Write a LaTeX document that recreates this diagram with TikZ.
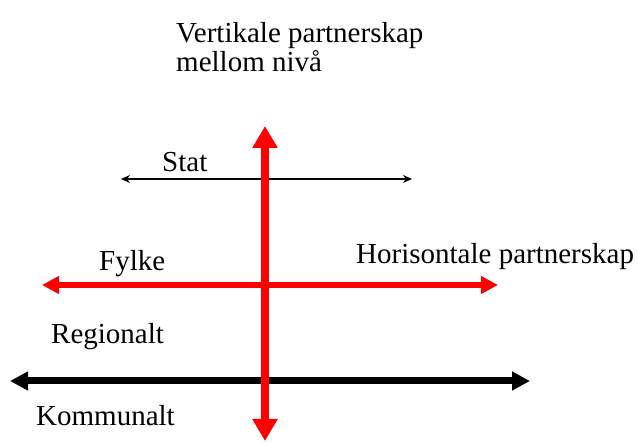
\documentclass[tikz,border=0pt]{standalone}
\usepackage{fontspec}
\setmainfont{Liberation Serif}
\usetikzlibrary{arrows.meta}
\begin{document}
\begin{tikzpicture}[x=1pt,y=-1pt,
  lbl/.style={anchor=base west,inner sep=0pt,font=\fontsize{29}{34}\selectfont},
  redbig/.style={draw=red,line width=8pt,{Triangle[length=22pt,width=24pt]}-{Triangle[length=22pt,width=24pt]}},
  redmid/.style={draw=red,line width=6pt,{Triangle[length=17pt,width=17pt]}-{Triangle[length=17pt,width=17pt]}},
  blackmid/.style={draw=black,line width=7pt,{Triangle[length=18pt,width=18pt]}-{Triangle[length=18pt,width=18pt]}},
  thin/.style={draw=black,line width=1.3pt,{Stealth[length=9pt,width=8pt]}-{Stealth[length=9pt,width=8pt]}}]
\useasboundingbox (0,0) rectangle (638,443);
\coordinate (vt) at (265,126);
\coordinate (vb) at (265,441);
\coordinate (fl) at (42,285);
\coordinate (fr) at (498,285);
\coordinate (kl) at (10,381);
\coordinate (kr) at (530,381);
\coordinate (sl) at (121,179);
\coordinate (sr) at (412,179);
\draw[thin] (sl) -- (sr);
\draw[redmid] (fl) -- (fr);
\draw[blackmid] (kl) -- (kr);
\draw[redbig] (vt) -- (vb);
\node[lbl] (v1) at (176,43) {Vertikale partnerskap};
\node[lbl] (v2) at (176,72) {mellom nivå};
\node[lbl] (st) at (162,172) {Stat};
\node[lbl] (fy) at (99,271) {Fylke};
\node[lbl] (ho) at (356,264) {Horisontale partnerskap};
\node[lbl] (re) at (51,344) {Regionalt};
\node[lbl] (ko) at (36,426) {Kommunalt};
\end{tikzpicture}
\end{document}
